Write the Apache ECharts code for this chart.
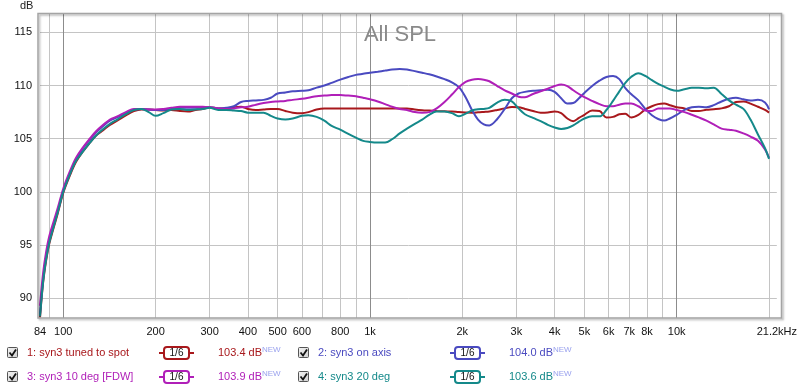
<!DOCTYPE html>
<html><head><meta charset="utf-8">
<script src="https://cdn.jsdelivr.net/npm/echarts@6/dist/echarts.min.js"></script>
<style>html,body{margin:0;padding:0;background:#fff}#c{width:800px;height:390px}</style>
</head><body><div id="c"></div>
<script>
// ---------- data ----------
const freqs = [84,86,88,90,93,96,100,105,110,116,122,128,135,142,150,160,170,180,190,200,212,225,240,255,270,285,300,320,340,360,380,400,425,450,475,500,530,560,600,630,670,710,750,800,850,900,950,1000,1060,1120,1180,1250,1320,1400,1480,1560,1650,1750,1850,1950,2050,2150,2250,2350,2450,2600,2750,2900,3050,3200,3400,3600,3800,4000,4200,4400,4600,4800,5000,5300,5600,5900,6200,6500,6800,7100,7500,7900,8300,8700,9100,9500,10000,10600,11200,11800,12500,13200,14000,14800,15600,16500,17400,18400,19400,20000];

const spot = [88.2,91.5,93.6,95.1,96.6,98.0,99.9,101.5,102.8,103.8,104.6,105.3,105.8,106.3,106.7,107.2,107.6,107.75,107.75,107.7,107.65,107.7,107.6,107.55,107.7,107.8,107.95,107.85,107.85,107.95,108.0,107.8,107.7,107.75,107.8,107.8,107.6,107.45,107.4,107.5,107.75,107.85,107.85,107.85,107.85,107.85,107.85,107.85,107.85,107.85,107.85,107.85,107.85,107.75,107.68,107.64,107.6,107.57,107.55,107.5,107.47,107.45,107.48,107.52,107.56,107.7,107.85,107.97,107.95,107.8,107.6,107.45,107.47,107.55,107.4,106.9,106.65,106.95,107.25,107.65,107.6,107.0,107.05,107.3,107.35,107.0,107.25,107.75,108.05,108.25,108.3,108.15,107.95,107.85,107.6,107.6,107.72,107.77,107.85,108.05,108.45,108.5,108.3,108.0,107.7,107.45];

const onAxis = [88.5,91.8,93.9,95.4,96.9,98.2,100.1,101.7,103.0,104.1,104.9,105.6,106.2,106.7,107.0,107.4,107.75,107.8,107.75,107.7,107.7,107.8,107.9,107.9,107.9,107.95,107.95,107.85,107.9,108.05,108.45,108.55,108.6,108.65,108.85,109.25,109.35,109.45,109.5,109.55,109.8,110.0,110.25,110.55,110.8,111.0,111.1,111.2,111.3,111.4,111.5,111.55,111.5,111.35,111.2,111.05,110.85,110.6,110.3,109.85,108.9,107.7,106.8,106.35,106.25,106.85,107.8,108.8,109.25,109.4,109.5,109.55,109.6,109.4,108.8,108.3,108.35,108.8,109.3,109.95,110.45,110.8,110.9,110.6,109.75,109.2,108.6,107.8,107.2,106.85,106.7,106.9,107.25,107.7,107.95,108.0,107.95,108.15,108.5,108.75,108.85,108.7,108.6,108.65,108.4,107.75];

const deg10 = [89.3,92.4,94.4,95.8,97.2,98.5,100.3,101.9,103.2,104.2,105.0,105.7,106.3,106.8,107.1,107.5,107.8,107.8,107.75,107.75,107.8,107.9,108.0,108.0,108.0,108.0,107.95,107.85,107.8,107.85,107.95,108.0,108.2,108.35,108.45,108.5,108.55,108.65,108.75,108.85,109.0,109.05,109.1,109.1,109.05,109.0,108.85,108.7,108.5,108.25,108.0,107.8,107.7,107.5,107.45,107.5,107.85,108.45,109.15,109.85,110.35,110.55,110.6,110.55,110.4,109.95,109.55,109.25,108.95,108.9,109.2,109.45,109.7,109.95,110.1,109.95,109.55,109.2,108.9,108.55,108.25,108.05,108.05,108.2,108.3,108.3,108.05,107.65,107.6,107.85,107.85,107.85,107.7,107.5,107.25,107.0,106.7,106.35,105.95,105.85,105.75,105.5,105.2,104.8,104.0,103.2];

const deg20 = [88.3,91.6,93.7,95.2,96.7,98.1,100.0,101.6,102.9,103.8,104.6,105.3,105.9,106.4,106.8,107.3,107.7,107.8,107.5,107.15,107.4,107.75,107.8,107.7,107.75,107.8,107.9,107.7,107.7,107.65,107.6,107.45,107.45,107.45,107.15,106.9,106.8,106.9,107.15,107.2,107.05,106.7,106.2,105.85,105.45,105.1,104.8,104.7,104.65,104.65,104.95,105.5,105.95,106.4,106.8,107.25,107.55,107.55,107.4,107.1,107.35,107.65,107.77,107.8,107.9,108.4,108.65,108.5,107.85,107.3,106.95,106.65,106.3,106.05,105.92,106.0,106.25,106.6,106.9,107.1,107.1,107.7,108.55,109.45,110.25,110.8,111.15,110.9,110.5,110.15,109.9,109.65,109.5,109.65,109.78,109.8,109.75,109.8,109.2,108.6,108.2,107.8,106.8,105.4,104.1,103.1];

const seriesNames = ['1: syn3 tuned to spot','2: syn3 on axis','3: syn3 10 deg [FDW]','4: syn3 20 deg'];
const seriesLevels = ['103.4 dB','104.0 dB','103.9 dB','103.6 dB'];
const seriesColors = ['#a8181c','#4a4ac0','#b01fb8','#14898a'];

const gridFreqs = [90,100,200,300,400,500,600,700,800,900,1000,2000,3000,4000,5000,6000,7000,8000,9000,10000,20000];
const majorFreqs = [100,1000,10000];
const labelFreqs = [84,100,200,300,400,500,600,800,1000,2000,3000,4000,5000,6000,7000,8000,10000,21200];
const labelTexts = ['84','100','200','300','400','500','600','800','1k','2k','3k','4k','5k','6k','7k','8k','10k','21.2kHz'];
const yTicks = [90,95,100,105,110,115];
const xMinHz = 84, xMaxHz = 21200, yMin = 88.15, yMax = 116.72;

// ---------- build ----------
const L = Math.log10;
const mk = arr => freqs.map((f,i)=>[L(f), arr[i]]);
const allSeries = [spot, onAxis, deg10, deg20];
const font = 'Liberation Sans, Arial, sans-serif';

const chart = echarts.init(document.getElementById('c'), null, {renderer:'canvas'});

const graphics = [];
graphics.push({type:'rect', z:10, silent:true,
  shape:{x:38, y:13.5, width:743.5, height:304.5},
  style:{fill:null, stroke:'#a4a4a4', lineWidth:1.5, shadowColor:'rgba(0,0,0,0.3)', shadowBlur:2, shadowOffsetX:1.5, shadowOffsetY:1.5}});
graphics.push({type:'text', left:20, top:0, style:{text:'dB', font:'11px '+font, fill:'#222'}});

const pos = [[7,353],[298,353],[7,377],[298,377]];
pos.forEach(([x,y],i)=>{
  const c = seriesColors[i];
  graphics.push({type:'rect', shape:{x:x+0.5, y:y-5.5, width:10, height:10, r:1},
    style:{fill:new echarts.graphic.LinearGradient(0,0,1,1,[{offset:0,color:'#f4f4f4'},{offset:1,color:'#cfcfcf'}]), stroke:'#555', lineWidth:1}});
  graphics.push({type:'polyline', shape:{points:[[x+2.5,y-0.5],[x+5,y+2.5],[x+9,y-3.5]]}, style:{stroke:'#111', lineWidth:1.8, fill:null}});
  graphics.push({type:'text', x:x+20, y:y, style:{text:seriesNames[i], font:'11px '+font, fill:c, textVerticalAlign:'middle'}});
  graphics.push({type:'line', shape:{x1:x+152, y1:y, x2:x+157, y2:y}, style:{stroke:c, lineWidth:2}});
  graphics.push({type:'line', shape:{x1:x+182, y1:y, x2:x+187, y2:y}, style:{stroke:c, lineWidth:2}});
  graphics.push({type:'rect', shape:{x:x+157, y:y-6, width:25, height:12, r:3}, style:{fill:'#fff', stroke:c, lineWidth:2}});
  graphics.push({type:'text', x:x+169.5, y:y, style:{text:'1/6', font:'10px '+font, fill:'#111', textAlign:'center', textVerticalAlign:'middle'}});
  graphics.push({type:'text', x:x+211, y:y, style:{text:seriesLevels[i], font:'11px '+font, fill:c, textVerticalAlign:'middle'}});
  graphics.push({type:'text', x:x+255, y:y-3, style:{text:'NEW', font:'8px '+font, fill:'#9aa2ee', textVerticalAlign:'middle'}});
});

const labelMap = {};
labelFreqs.forEach((f,i)=>{ labelMap[L(f).toFixed(4)] = labelTexts[i]; });

const option = {
  animation:false,
  backgroundColor:'#fff',
  title:{text:'All SPL', left:'center', top:19, textStyle:{color:'#8a8a8a', fontSize:22, fontWeight:'normal', fontFamily:font}},
  grid:{left:40, right:20, top:14, bottom:72, containLabel:false},
  xAxis:{type:'value', min:L(xMinHz), max:L(xMaxHz),
    axisLine:{show:false},
    axisTick:{show:false, customValues:gridFreqs.map(L)},
    axisLabel:{customValues:labelFreqs.map(L), margin:8, color:'#111', fontSize:11, fontFamily:font,
      formatter:v=>labelMap[v.toFixed(4)] || ''},
    splitLine:{show:true, lineStyle:{width:1, color:gridFreqs.map(f=>majorFreqs.includes(f)?'#8c8c8c':'#c4c4c4')}}
  },
  yAxis:{type:'value', min:yMin, max:yMax,
    axisLine:{show:false},
    axisTick:{show:false, customValues:yTicks},
    axisLabel:{customValues:yTicks, margin:8, color:'#111', fontSize:11, fontFamily:font},
    splitLine:{show:true, lineStyle:{width:1, color:'#c4c4c4'}}
  },
  graphic:graphics,
  series: allSeries.map((arr,i)=>({
    type:'line', name:seriesNames[i], data:mk(arr), showSymbol:false, symbol:'none',
    smooth:0.35, clip:true, z:2+i,
    lineStyle:{color:seriesColors[i], width:2}
  }))
};
chart.setOption(option);
</script>
</body></html>
